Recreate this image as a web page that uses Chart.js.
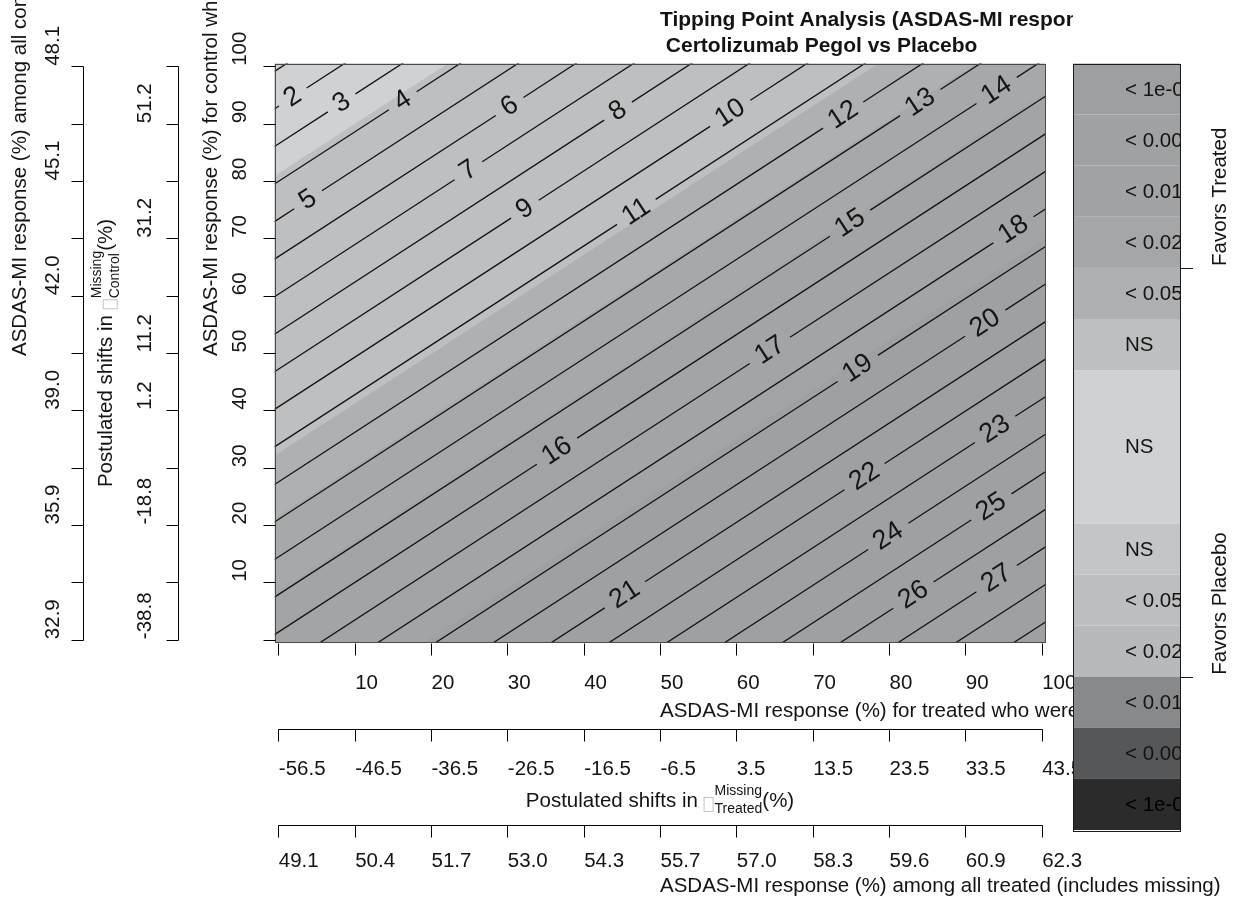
<!DOCTYPE html>
<html>
<head>
<meta charset="utf-8">
<script src="https://cdn.jsdelivr.net/npm/chart.js@4.4.1/dist/chart.umd.min.js"></script>
<style>
  html, body { margin: 0; padding: 0; background: #ffffff; }
  canvas { display: block; }
</style>
</head>
<body>
<canvas id="tp" width="1234" height="904"></canvas>
<script>
const FONT = '"Liberation Sans", Arial, Helvetica, sans-serif';
const INK = '#141414';
const TEXT_PX = 20.5;

// ---- titles ----
const titleLines = ['Tipping Point Analysis (ASDAS-MI response)', ' Certolizumab Pegol vs Placebo'];
const xTitle = 'ASDAS-MI response (%) for treated who were missing';
const xAllTitle = 'ASDAS-MI response (%) among all treated (includes missing)';
const yTitle = 'ASDAS-MI response (%) for control who were missing';
const yAllTitle = 'ASDAS-MI response (%) among all control (includes missing)';
const shiftTitle = 'Postulated shifts in ';
const shiftSup = 'Missing';
const shiftSubTreated = 'Treated';
const shiftSubControl = 'Control';

// ---- axis ticks and labels ----
const tickValues = [0, 10, 20, 30, 40, 50, 60, 70, 80, 90, 100];
const xTickLabels = ['', '10', '20', '30', '40', '50', '60', '70', '80', '90', '100'];
const treatedShiftLabels = ['-56.5', '-46.5', '-36.5', '-26.5', '-16.5', '-6.5', '3.5', '13.5', '23.5', '33.5', '43.5'];
const treatedAllLabels = ['49.1', '50.4', '51.7', '53.0', '54.3', '55.7', '57.0', '58.3', '59.6', '60.9', '62.3'];
const yTickLabels = ['', '10', '20', '30', '40', '50', '60', '70', '80', '90', '100'];
const controlShiftLabels = ['-38.8', '', '-18.8', '', '1.2', '11.2', '', '31.2', '', '51.2', ''];
const controlAllLabels = ['32.9', '', '35.9', '', '39.0', '', '42.0', '', '45.1', '', '48.1'];

// ---- contour lines: level, y at x = -0.5, y at x = 100.5, label position (x) ----
const contourLevels = [1, 2, 3, 4, 5, 6, 7, 8, 9, 10, 11, 12, 13, 14, 15, 16, 17, 18, 19, 20, 21, 22, 23, 24, 25, 26, 27, 28, 29];
const contourLeftY = [99.12, 92.57, 86.02, 79.47, 72.92, 66.37, 59.82, 53.27, 46.72, 40.17, 33.62, 27.07, 20.52, 13.97, 7.42, 0.87, -5.68, -12.23, -18.78, -25.33, -31.88, -38.43, -44.98, -51.53, -58.08, -64.63, -71.18, -77.73, -84.28];
const contourRightY = [186.48, 179.93, 173.38, 166.83, 160.28, 153.73, 147.18, 140.63, 134.08, 127.53, 120.98, 114.43, 107.88, 101.33, 94.78, 88.23, 81.68, 75.13, 68.58, 62.03, 55.48, 48.93, 42.38, 35.83, 29.28, 22.73, 16.18, 9.63, 3.08];
const contourLabelX = [null, 1.9, 8.3, 16.3, 3.9, 30.3, 24.9, 44.5, 32.3, 59.2, 46.9, 74.0, 84.1, 94.1, 74.9, 36.5, 64.4, 96.3, 75.9, 92.6, 45.4, 76.8, 93.9, 79.9, 93.4, 83.2, 94.1, null, null];

// ---- p-value bands (lower edge of each band, from bottom-right to top-left) ----
const bandColors = ['#9fa0a2', '#a3a4a6', '#a7a8aa', '#afb0b2', '#bebfc1', '#d0d1d3'];
const bandLowerLeftY = [-0.5, -17.43, 8.07, 21.07, 32.07, 80.87];
const bandLowerRightY = [-0.5, 69.93, 95.43, 108.43, 119.43, 168.23];

// ---- colour key ----
const keyLabels = ['< 1e-04', '< 0.001', '< 0.01', '< 0.025', '< 0.05', 'NS', 'NS', 'NS', '< 0.05', '< 0.025', '< 0.01', '< 0.001', '< 1e-04'];
const keyColors = ['#9e9fa1', '#a0a1a3', '#a2a3a5', '#a5a6a8', '#afb0b2', '#bebfc1', '#d0d1d3', '#c4c5c7', '#bdbec0', '#b8b9bb', '#88898b', '#565759', '#2b2b2b'];
const keyUnits = [1, 1, 1, 1, 1, 1, 3, 1, 1, 1, 1, 1, 1];
const keySides = ['Favors Treated', 'Favors Placebo'];

const CONTOUR_FONT_PX = 27;
const CONTOUR_LABEL_GAP = 9;

function txt(ctx, s, x, y, o) {
  o = o || {};
  ctx.save();
  ctx.font = (o.weight || 'normal') + ' ' + (o.size || TEXT_PX) + 'px ' + (o.family || FONT);
  ctx.fillStyle = o.color || INK;
  ctx.textAlign = o.align || 'left';
  ctx.textBaseline = 'middle';
  ctx.translate(x, y);
  if (o.rot) ctx.rotate(o.rot);
  ctx.fillText(s, 0, 0);
  ctx.restore();
}

function measure(ctx, s, size, weight) {
  ctx.save();
  ctx.font = (weight || 'normal') + ' ' + size + 'px ' + FONT;
  const w = ctx.measureText(s).width;
  ctx.restore();
  return w;
}

// "Postulated shifts in [] Missing/Sub (%)" drawn centred on (cx, cy)
function drawShiftTitle(ctx, cx, cy, rot, sub) {
  const small = 14;
  const wMain = measure(ctx, shiftTitle, TEXT_PX);
  const wBox = 11;
  const wSup = measure(ctx, shiftSup, small);
  const wSub = measure(ctx, sub, small);
  const wTail = measure(ctx, '(%)', TEXT_PX);
  const total = wMain + wBox + Math.max(wSup, wSub) + wTail;
  ctx.save();
  ctx.translate(cx, cy);
  ctx.rotate(rot);
  let x = -total / 2;
  txt(ctx, shiftTitle, x, 0, {});
  x += wMain;
  ctx.strokeStyle = '#c4c4c4';
  ctx.lineWidth = 1;
  ctx.strokeRect(x + 0.5, -3.5, 9, 14);
  x += wBox;
  txt(ctx, shiftSup, x, -10, { size: small });
  txt(ctx, sub, x, 8, { size: small });
  x += Math.max(wSup, wSub);
  txt(ctx, '(%)', x, 0, {});
  ctx.restore();
}

function hAxis(ctx, scale, lineY, drawLine, labels, labelY) {
  const ly = Math.round(lineY) + 0.5;
  ctx.save();
  ctx.strokeStyle = '#000';
  ctx.lineWidth = 1;
  ctx.beginPath();
  if (drawLine) {
    ctx.moveTo(Math.round(scale.getPixelForValue(tickValues[0])) + 0.5, ly);
    ctx.lineTo(Math.round(scale.getPixelForValue(tickValues[tickValues.length - 1])) + 0.5, ly);
  }
  tickValues.forEach(v => {
    const px = Math.round(scale.getPixelForValue(v)) + 0.5;
    ctx.moveTo(px, ly);
    ctx.lineTo(px, ly + 12);
  });
  ctx.stroke();
  ctx.restore();
  labels.forEach((s, i) => {
    if (s) txt(ctx, s, scale.getPixelForValue(tickValues[i]) + 0.5, labelY, {});
  });
}

function vAxis(ctx, scale, lineX, drawLine, labels, labelX) {
  const lx = Math.round(lineX) + 0.5;
  ctx.save();
  ctx.strokeStyle = '#000';
  ctx.lineWidth = 1;
  ctx.beginPath();
  if (drawLine) {
    ctx.moveTo(lx, Math.round(scale.getPixelForValue(tickValues[0])) + 0.5);
    ctx.lineTo(lx, Math.round(scale.getPixelForValue(tickValues[tickValues.length - 1])) + 0.5);
  }
  tickValues.forEach(v => {
    const py = Math.round(scale.getPixelForValue(v)) + 0.5;
    ctx.moveTo(lx, py);
    ctx.lineTo(lx - 12, py);
  });
  ctx.stroke();
  ctx.restore();
  labels.forEach((s, i) => {
    if (s) txt(ctx, s, labelX, scale.getPixelForValue(tickValues[i]) - 0.5, { rot: -Math.PI / 2 });
  });
}

const tippingPlot = {
  id: 'tippingPlot',
  afterDatasetsDraw(chart) {
    const { ctx, chartArea: ca, scales } = chart;
    // contour labels along the lines
    ctx.save();
    ctx.beginPath();
    ctx.rect(ca.left, ca.top, ca.right - ca.left, ca.bottom - ca.top);
    ctx.clip();
    contourLevels.forEach((lv, i) => {
      const lx = contourLabelX[i];
      if (lx === null) return;
      const ly = contourLeftY[i] + (contourRightY[i] - contourLeftY[i]) * (lx + 0.5) / 101;
      const p0x = scales.x.getPixelForValue(-0.5), p0y = scales.y.getPixelForValue(contourLeftY[i]);
      const p1x = scales.x.getPixelForValue(100.5), p1y = scales.y.getPixelForValue(contourRightY[i]);
      const ang = Math.atan2(p1y - p0y, p1x - p0x);
      txt(ctx, String(lv), scales.x.getPixelForValue(lx), scales.y.getPixelForValue(ly),
        { size: CONTOUR_FONT_PX, align: 'center', rot: ang, color: '#161616' });
    });
    ctx.restore();
    // plot frame
    ctx.save();
    ctx.strokeStyle = '#4a4a4a';
    ctx.lineWidth = 1;
    ctx.strokeRect(Math.round(ca.left) + 0.5, Math.round(ca.top) + 0.5,
      Math.round(ca.right - ca.left) - 1, Math.round(ca.bottom - ca.top) - 1);
    ctx.restore();
  },
  afterDraw(chart) {
    const { ctx, chartArea: ca, scales } = chart;
    const midX = (ca.left + ca.right) / 2;
    const midY = (ca.top + ca.bottom) / 2;

    // bottom axes
    hAxis(ctx, scales.x, ca.bottom, false, xTickLabels, ca.bottom + 40.5);
    txt(ctx, xTitle, midX, ca.bottom + 68.5, {});
    hAxis(ctx, scales.x2, ca.bottom + 86, true, treatedShiftLabels, ca.bottom + 126.5);
    drawShiftTitle(ctx, midX, ca.bottom + 158.5, 0, shiftSubTreated);
    hAxis(ctx, scales.x3, ca.bottom + 182.5, true, treatedAllLabels, ca.bottom + 219);
    txt(ctx, xAllTitle, midX, ca.bottom + 244, {});

    // left axes
    vAxis(ctx, scales.y, ca.left, false, yTickLabels, ca.left - 34);
    txt(ctx, yTitle, ca.left - 63, midY + 3, { rot: -Math.PI / 2 });
    vAxis(ctx, scales.y2, ca.left - 96.2, true, controlShiftLabels, ca.left - 129.5);
    drawShiftTitle(ctx, ca.left - 167.8, midY, -Math.PI / 2, shiftSubControl);
    vAxis(ctx, scales.y3, ca.left - 191.2, true, controlAllLabels, ca.left - 221.2);
    txt(ctx, yAllTitle, ca.left - 254.5, midY + 3, { rot: -Math.PI / 2 });

    // main title
    txt(ctx, titleLines[0], midX, 20, { weight: 'bold', size: 21 });
    txt(ctx, titleLines[1], midX, 46, { weight: 'bold', size: 21 });

    // colour key panel
    const kx0 = 1073, kx1 = 1180, ky0 = 63.5, ky1 = 830;
    ctx.save();
    ctx.fillStyle = '#ffffff';
    ctx.fillRect(kx0, 0, chart.width - kx0, 850);
    const unit = (ky1 - ky0) / keyUnits.reduce((a, b) => a + b, 0);
    let y = ky0;
    const bounds = [];
    keyLabels.forEach((lab, i) => {
      const h = keyUnits[i] * unit;
      ctx.fillStyle = keyColors[i];
      ctx.fillRect(kx0, y, kx1 - kx0, h);
      bounds.push([y, h]);
      y += h;
    });
    ctx.beginPath();
    ctx.rect(kx0, ky0, kx1 - kx0, ky1 - ky0);
    ctx.clip();
    keyLabels.forEach((lab, i) => {
      txt(ctx, lab, 1125, bounds[i][0] + bounds[i][1] / 2 + 1, { color: i === keyLabels.length - 1 ? '#000' : INK });
    });
    ctx.restore();
    ctx.save();
    ctx.strokeStyle = '#1a1a1a';
    ctx.lineWidth = 1;
    ctx.strokeRect(kx0 + 0.5, Math.round(ky0) + 0.5, kx1 - kx0, Math.round(ky1 - ky0));
    const splitA = bounds[4][0], splitB = bounds[10][0];
    ctx.beginPath();
    ctx.moveTo(kx1, Math.round(splitA) + 0.5); ctx.lineTo(kx1 + 13, Math.round(splitA) + 0.5);
    ctx.moveTo(kx1, Math.round(splitB) + 0.5); ctx.lineTo(kx1 + 13, Math.round(splitB) + 0.5);
    ctx.stroke();
    ctx.restore();
    txt(ctx, keySides[0], 1220, splitA - 2, { rot: -Math.PI / 2 });
    txt(ctx, keySides[1], 1220, splitB - 2, { rot: -Math.PI / 2 });
  }
};

// ---- datasets ----
const datasets = [];
contourLevels.forEach((lv, i) => {
  datasets.push({
    label: 'level ' + lv,
    data: [{ x: -0.5, y: contourLeftY[i] }, { x: 100.5, y: contourRightY[i] }],
    borderColor: '#141414', borderWidth: 1.3, pointRadius: 0, fill: false,
    tension: 0, spanGaps: false, order: 0
  });
});
bandColors.forEach((c, i) => {
  datasets.push({
    label: 'band ' + i,
    data: [{ x: -0.5, y: bandLowerLeftY[i] }, { x: 100.5, y: bandLowerRightY[i] }],
    borderColor: 'rgba(0,0,0,0)', borderWidth: 0, backgroundColor: c,
    pointRadius: 0, fill: 'end', tension: 0, order: 20 - i
  });
});

const hidden = (pos) => ({ type: 'linear', position: pos, min: -0.5, max: 100.5, display: false });

const chart = new Chart(document.getElementById('tp'), {
  type: 'line',
  data: { datasets },
  options: {
    responsive: false,
    animation: false,
    devicePixelRatio: 1,
    events: [],
    layout: { padding: { left: 274.5, right: 188.5, top: 63.5, bottom: 261.5 } },
    plugins: { legend: { display: false }, tooltip: { enabled: false }, title: { display: false } },
    scales: {
      x: hidden('bottom'), x2: hidden('bottom'), x3: hidden('bottom'),
      y: hidden('left'), y2: hidden('left'), y3: hidden('left')
    }
  },
  plugins: [tippingPlot]
});

// open a gap in each labelled contour where its number sits
(function openLabelGaps() {
  const sx = chart.scales.x, sy = chart.scales.y;
  const c = document.createElement('canvas').getContext('2d');
  c.font = CONTOUR_FONT_PX + 'px ' + FONT;
  contourLevels.forEach((lv, i) => {
    const lx = contourLabelX[i];
    if (lx === null) return;
    const ly = contourLeftY[i] + (contourRightY[i] - contourLeftY[i]) * (lx + 0.5) / 101;
    const p0x = sx.getPixelForValue(-0.5), p0y = sy.getPixelForValue(contourLeftY[i]);
    const p1x = sx.getPixelForValue(100.5), p1y = sy.getPixelForValue(contourRightY[i]);
    const len = Math.hypot(p1x - p0x, p1y - p0y);
    const ux = (p1x - p0x) / len, uy = (p1y - p0y) / len;
    const half = c.measureText(String(lv)).width / 2 + CONTOUR_LABEL_GAP;
    const cx = sx.getPixelForValue(lx), cy = sy.getPixelForValue(ly);
    const a = { x: sx.getValueForPixel(cx - ux * half), y: sy.getValueForPixel(cy - uy * half) };
    const b = { x: sx.getValueForPixel(cx + ux * half), y: sy.getValueForPixel(cy + uy * half) };
    chart.data.datasets[i].data = [
      { x: -0.5, y: contourLeftY[i] }, a, { x: lx, y: null }, b, { x: 100.5, y: contourRightY[i] }
    ];
  });
  chart.update();
})();
</script>
</body>
</html>
